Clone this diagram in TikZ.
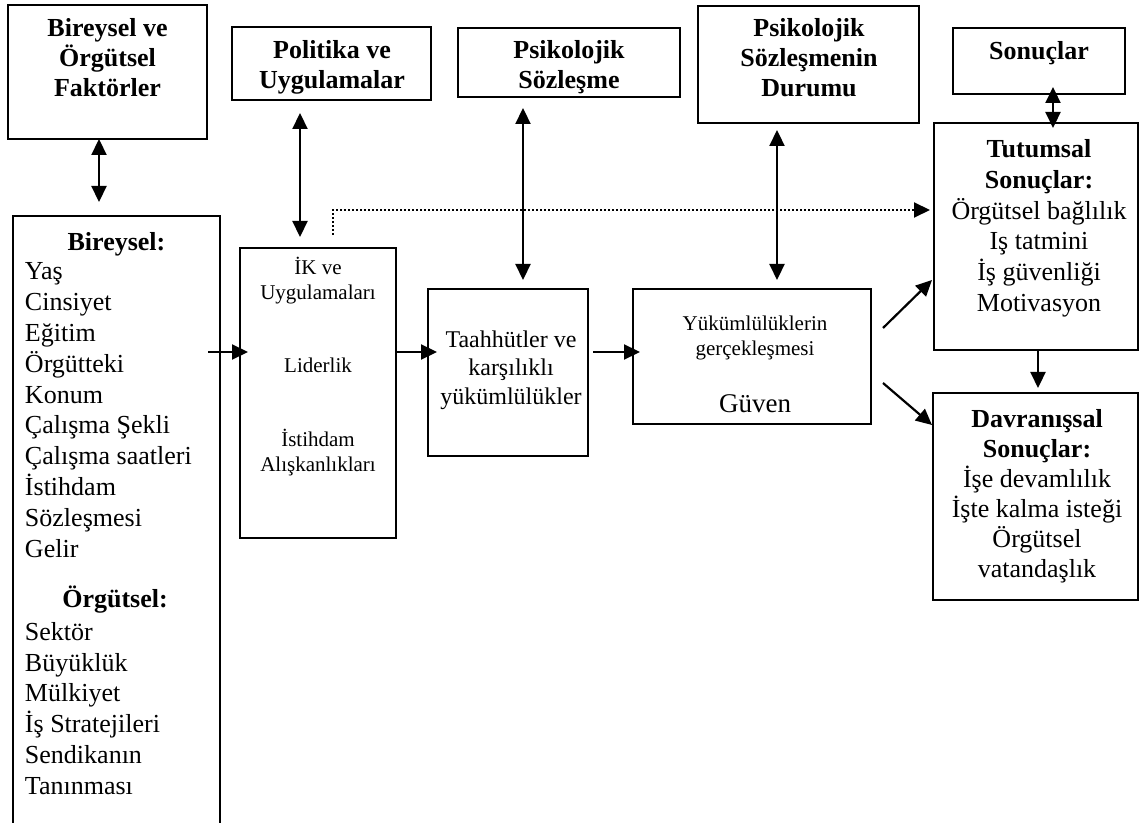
\documentclass[tikz,border=0pt]{standalone}
\usepackage{fontspec}
\setmainfont{Liberation Serif}
\usetikzlibrary{arrows.meta,fit,calc}

\begin{document}
\begin{tikzpicture}[x=0.5pt,y=-0.5pt,
  frame/.style={draw, line width=1.2pt, inner sep=0pt, outer sep=0pt},
  midframe/.style={draw, line width=1pt, inner sep=0pt, outer sep=0pt},
  thinframe/.style={draw, line width=0.9pt, inner sep=0pt, outer sep=0pt},
  body/.style={inner sep=0pt, outer sep=0pt, align=center, font=\fontsize{13}{15}\selectfont},
  head/.style={inner sep=0pt, outer sep=0pt, align=center, font=\fontsize{13}{15}\selectfont\bfseries},
  listing/.style={inner sep=0pt, outer sep=0pt, align=left, font=\fontsize{13}{15.4}\selectfont},
  small/.style={inner sep=0pt, outer sep=0pt, align=center, font=\fontsize{10.5}{12.5}\selectfont},
  tipped/.style={-{Triangle[length=8pt,width=7.5pt]}, line width=1.1pt},
  twoway/.style={{Triangle[length=8pt,width=7.5pt]}-{Triangle[length=8pt,width=7.5pt]}, line width=1.1pt},
  dotline/.style={line width=1pt, dash pattern=on 1pt off 1pt, -{Triangle[length=8pt,width=7.5pt]}}
]
\useasboundingbox (0,0) rectangle (1140,823);
\clip (0,0) rectangle (1140,823);

% ---- top row of headings
\node[frame, fit={(8,5) (207,139)}] (fac) {};
\node[head, anchor=north] (facT) at (107.5,18.2) {Bireysel ve\\Örgütsel\\Faktörler};

\node[frame, fit={(232,27) (431,100)}] (pol) {};
\node[head, anchor=north] (polT) at (332,40.7) {Politika ve\\Uygulamalar};

\node[frame, fit={(458,28) (680,97)}] (psy) {};
\node[head, anchor=north] (psyT) at (569,40.3) {Psikolojik\\Sözleşme};

\node[frame, fit={(698,6) (919,123)}] (dur) {};
\node[head, anchor=north] (durT) at (809,18.2) {Psikolojik\\Sözleşmenin\\Durumu};

\node[frame, fit={(953,28) (1125,94)}] (son) {};
\node[head, anchor=north] (sonT) at (1039,41) {Sonuçlar};

% ---- factor list (box runs off the lower edge)
\node[midframe, fit={(13,216) (220,880)}] (bir) {};
\node[head, anchor=base] (birH) at (116.5,250.6) {Bireysel:};
\node[listing, anchor=north west] (birL) at (25,262.8)
  {Yaş\\Cinsiyet\\Eğitim\\Örgütteki\\Konum\\Çalışma Şekli\\Çalışma saatleri\\İstihdam\\Sözleşmesi\\Gelir};
\node[head, anchor=base] (orgH) at (115,607.5) {Örgütsel:};
\node[listing, anchor=north west] (orgL) at (25,622.2)
  {Sektör\\Büyüklük\\Mülkiyet\\İş Stratejileri\\Sendikanın\\Tanınması};

% ---- middle chain
\node[thinframe, fit={(240,248) (396,538)}] (ik) {};
\node[small, anchor=north] (ikT) at (318,257.4)
  {İK ve\\Uygulamaları\\[24pt]Liderlik\\[24.5pt]İstihdam\\Alışkanlıkları};

\node[thinframe, fit={(428,289) (588,456)}] (taah) {};
\node[inner sep=0pt, outer sep=0pt, align=center, font=\fontsize{12}{14.25}\selectfont, anchor=north]
  (taahT) at (511,330.6) {Taahhütler ve\\karşılıklı\\yükümlülükler};

\node[thinframe, fit={(633,289) (871,424)}] (yuk) {};
\node[small, anchor=north] (yukT) at (755,315.7) {Yükümlülüklerin\\gerçekleşmesi};
\node[inner sep=0pt, font=\fontsize{13.5}{15}\selectfont, anchor=base] (guv) at (755,413) {Güven};

% ---- outcomes
\node[midframe, fit={(934,123) (1138,350)}] (tut) {};
\node[body, anchor=north, font=\fontsize{13}{15.4}\selectfont] (tutT) at (1039,139.4)
  {\textbf{Tutumsal}\\\textbf{Sonuçlar:}\\Örgütsel bağlılık\\Iş tatmini\\İş güvenliği\\Motivasyon};

\node[midframe, fit={(933,393) (1138,600)}] (dav) {};
\node[body, anchor=north] (davT) at (1037,409.4)
  {\textbf{Davranışsal}\\\textbf{Sonuçlar:}\\İşe devamlılık\\İşte kalma isteği\\Örgütsel\\vatandaşlık};

% ---- connector guides
\coordinate (xa) at (99,0);
\coordinate (xb) at (300,0);
\coordinate (xc) at (523,0);
\coordinate (xd) at (777,0);
\coordinate (xe) at (1053,0);
\coordinate (xf) at (1038,0);
\coordinate (xg) at (333,0);
\coordinate (ym) at (0,352);
\coordinate (yg) at (0,210);

% ---- two-way links to the headings
\draw[twoway, shorten >=7pt] (fac.south -| xa) -- (bir.north -| xa);
\draw[twoway, shorten <=6.5pt, shorten >=5.5pt] (pol.south -| xb) -- (ik.north -| xb);
\draw[twoway, shorten <=5.5pt, shorten >=4.5pt] (psy.south -| xc) -- (taah.north -| xc);
\draw[twoway, shorten <=3.5pt, shorten >=4.5pt] (dur.south -| xd) -- (yuk.north -| xd);
\draw[twoway, shorten <=-3.5pt, shorten >=-2.5pt] (son.south -| xe) -- (tut.north -| xe);

% ---- main flow
\draw[tipped, shorten <=-6pt, shorten >=-4pt] (bir.east |- ym) -- (ik.west |- ym);
\draw[tipped, shorten >=-4.5pt] (ik.east |- ym) -- (taah.west |- ym);
\draw[tipped, shorten <=2.5pt, shorten >=-3.5pt] (taah.east |- ym) -- (yuk.west |- ym);
\draw[tipped] ($(yuk.east)+(12,-28.5)$) -- ($(tut.west)+(-2,43.5)$);
\draw[tipped] ($(yuk.east)+(12,26.5)$) -- ($(dav.west)+(-1,-71.5)$);
\draw[tipped, shorten >=2.5pt] (tut.south -| xf) -- (dav.north -| xf);

% ---- dotted shortcut
\draw[dotline, shorten >=2pt] ($(ik.north -| xg)+(0,-13)$) |- (tut.west |- yg);
\end{tikzpicture}
\end{document}
